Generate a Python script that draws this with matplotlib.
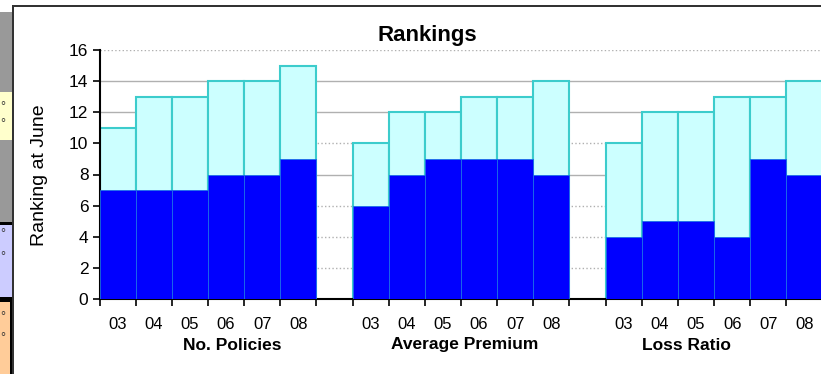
import numpy as np
import matplotlib.pyplot as plt
from matplotlib.patches import Rectangle
from matplotlib.transforms import blended_transform_factory

plt.rcParams['font.family'] = ['Liberation Sans', 'DejaVu Sans']

# data
groups = ['No. Policies', 'Average Premium', 'Loss Ratio']
years = ['03', '04', '05', '06', '07', '08']
total_rank = [
    [11, 13, 13, 14, 14, 15],
    [10, 12, 12, 13, 13, 14],
    [10, 12, 12, 13, 13, 14],
]
june_rank = [
    [7, 7, 7, 8, 8, 9],
    [6, 8, 9, 9, 9, 8],
    [4, 5, 5, 4, 9, 8],
]

light = '#ccffff'
edge = '#3ccccc'
dark = '#0000ff'

fig = plt.figure(figsize=(8.21, 3.74), dpi=100)

# left strip / frame of the surrounding page
W, H = 821, 374
def fig_rect(x0, y0, x1, y1, **kw):
    fig.patches.append(Rectangle((x0 / W, 1 - y1 / H), (x1 - x0) / W, (y1 - y0) / H,
                                 transform=fig.transFigure, **kw))

fig_rect(0, 12, 12, 92, facecolor='#999999', edgecolor='none')
fig_rect(0, 92, 12, 140, facecolor='#ffffcc', edgecolor='none')
fig_rect(0, 140, 12, 222, facecolor='#999999', edgecolor='none')
fig_rect(0, 222, 12, 225, facecolor='black', edgecolor='none')
fig_rect(0, 225, 12, 297, facecolor='#ccccff', edgecolor='none')
fig_rect(0, 297, 12, 302, facecolor='black', edgecolor='none')
fig_rect(0, 302, 10, 374, facecolor='#ffcc99', edgecolor='none')
fig_rect(10, 302, 13, 374, facecolor='black', edgecolor='none')
fig_rect(12, 5, 821, 7, facecolor='#333333', edgecolor='none')
fig_rect(12, 5, 14, 374, facecolor='#333333', edgecolor='none')
for yy in [107, 124, 234, 257, 317, 338]:
    fig.text(0, 1 - yy / H, '°', fontsize=9, color='#333333', va='center')

# axes: 20 slots (6 bars, gap, 6 bars, gap, 6 bars)
slot = 36.15
left = 99.5
ax = fig.add_axes([left / W, 75 / H, 20 * slot / W, 249 / H])
ax.set_xlim(0, 20)
ax.set_ylim(0, 16)

grid_styles = {2: ':', 4: ':', 6: ':', 8: '-', 10: ':', 12: '-', 14: '-', 16: ':'}
for yv, ls in grid_styles.items():
    ax.axhline(yv, color='#b0b0b0', lw=1, ls=ls, zorder=0)

centers = []
for g in range(len(groups)):
    start = g * 7
    x = start + np.arange(len(years))
    ax.bar(x, total_rank[g], width=1, align='edge', color=light,
           edgecolor=edge, linewidth=1.5, zorder=2)
    ax.bar(x, june_rank[g], width=1, align='edge', color=dark,
           edgecolor='#1c6ee8', linewidth=0.6, zorder=3)
    centers.extend(list(x + 0.5))

# bottom ticks at bar boundaries, year labels under bar centers
bounds = []
for g in range(len(groups)):
    bounds.extend(range(g * 7, g * 7 + 7))
ax.set_xticks(bounds)
ax.set_xticklabels([])
ax.set_xticks(centers, minor=True)
ax.set_xticklabels(years * len(groups), minor=True, fontsize=12)
ax.tick_params(axis='x', which='major', direction='out', length=5, width=1.2, color='black')
ax.tick_params(axis='x', which='minor', length=0, pad=13)

ax.set_yticks(range(0, 17, 2))
ax.tick_params(axis='y', direction='out', length=5, width=1.2, labelsize=12.5, pad=3)

for s in ['top', 'right']:
    ax.spines[s].set_visible(False)
ax.spines['left'].set_linewidth(1.5)
ax.spines['bottom'].set_linewidth(1.5)

trans = blended_transform_factory(ax.transData, fig.transFigure)
group_x = [3.68, 10.1, 16.24]
for gx, name in zip(group_x, groups):
    ax.text(gx, 1 - 345 / H, name, transform=trans, ha='center', va='center',
            fontsize=12.5, fontweight='bold')

fig.text(427 / W, 1 - 35 / H, 'Rankings', ha='center', va='center',
         fontsize=16, fontweight='bold')
fig.text(40 / W, 1 - 175 / H, 'Ranking at June', ha='center', va='center',
         rotation=90, fontsize=14)

fig.savefig('out.png', dpi=100)
